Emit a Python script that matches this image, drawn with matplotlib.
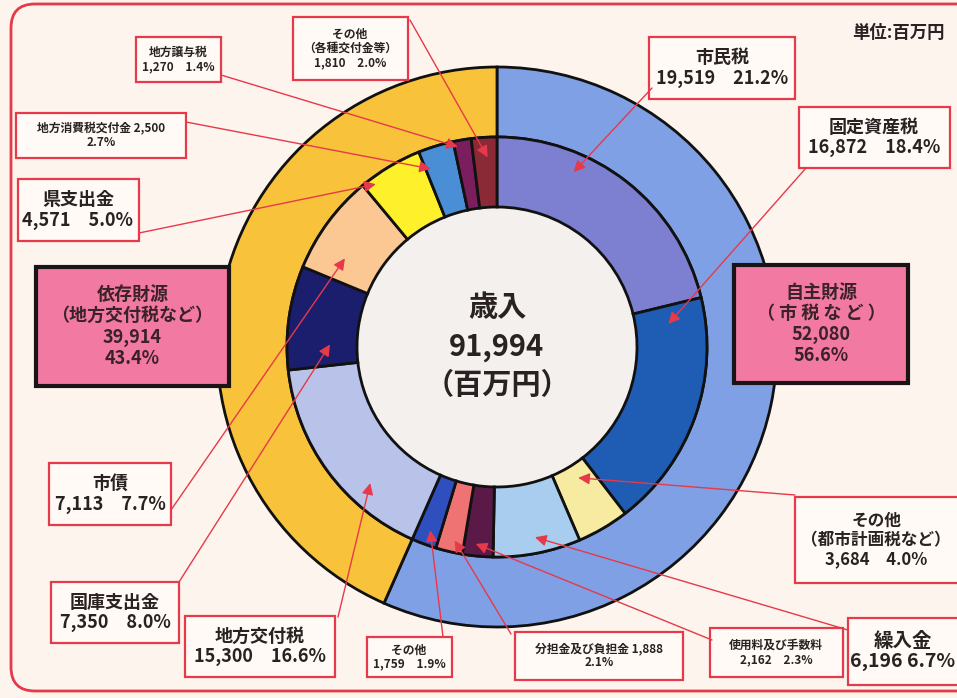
import numpy as np
import matplotlib
matplotlib.use("Agg")
import matplotlib.pyplot as plt
from matplotlib.patches import Rectangle, Circle, FancyBboxPatch

plt.rcParams['font.family'] = ['Noto Sans CJK JP', 'DejaVu Sans']

# ---- data (百万円) ----
outer_labels = ['自主財源\n（ 市 税 な ど ）', '依存財源\n（地方交付税など）']
outer_values = [52080, 39914]
outer_pcts = [56.6, 43.4]

inner_labels = ['市民税', '固定資産税', 'その他\n（都市計画税など）', '繰入金',
                '使用料及び手数料', '分担金及び負担金', 'その他',
                '地方交付税', '国庫支出金', '市債', '県支出金',
                '地方消費税交付金', '地方譲与税', 'その他\n（各種交付金等）']
inner_values = [19519, 16872, 3684, 6196, 2162, 1888, 1759,
                15300, 7350, 7113, 4571, 2500, 1270, 1810]
inner_pcts = [21.2, 18.4, 4.0, 6.7, 2.3, 2.1, 1.9,
              16.6, 8.0, 7.7, 5.0, 2.7, 1.4, 2.0]
total = 91994

outer_colors = ['#7fa0e4', '#f8c23a']
inner_colors = ['#7d7fd0', '#1f5cb4', '#f7eba2', '#a9cdee', '#5a1947', '#ef7373', '#2f4fbe',
                '#b9c2e8', '#1b1e6c', '#fbc894', '#fff02c', '#4a8ed6', '#7a1e5e', '#8a2a36']

# ---- layout (pixels) ----
W, H = 957, 698
cx, cy = 497, 347
R_OUT, R_MID, R_IN = 280, 210, 140
RED = '#e6394a'
TXT = '#2a2222'

fig = plt.figure(figsize=(W / 100, H / 100), dpi=100)
fig.patch.set_facecolor('#fdf4ee')
ax = fig.add_axes([0, 0, 1, 1])

ax.pie(outer_values, radius=R_OUT, center=(cx, cy), colors=outer_colors,
       startangle=-90, counterclock=True,
       wedgeprops=dict(width=R_OUT - R_MID, edgecolor='#111111', linewidth=2))
inner_wedges, _ = ax.pie(inner_values, radius=R_MID, center=(cx, cy), colors=inner_colors,
                         startangle=-90, counterclock=True,
                         wedgeprops=dict(width=R_MID - R_IN, edgecolor='#111111', linewidth=2))
ax.add_patch(Circle((cx, cy), R_IN - 1, facecolor='#f4f0ee', edgecolor='none', zorder=0.5))

ax.set_xlim(0, W)
ax.set_ylim(H, 0)
ax.set_aspect('auto')
ax.axis('off')

# outer rounded frame
ax.add_patch(FancyBboxPatch((11, 4), 1000, 687, boxstyle='round,pad=0,rounding_size=24',
                            facecolor='none', edgecolor=RED, linewidth=2, zorder=0.2))

# center text
for dy, s in [(-40, '歳入'), (0, f'{total:,}'), (38, '（百万円）')]:
    ax.text(cx, cy + dy, s, ha='center', va='center', fontsize=21, fontweight='bold', color=TXT)

ax.text(945, 33, '単位:百万円', ha='right', va='center', fontsize=12.5, fontweight='bold', color=TXT)

# label boxes: box (x0, y0, x1, y1), style, fontsize, text x, line start, arrow frac, arrow radius
# style 'a': name / value pct ; 'b': name value / pct
boxes = [
    ((649, 37, 795, 99), 'a', 13, 722, (652, 88), 0.31, 191),
    ((799, 107, 950, 168), 'a', 13, 874, (806, 168), 0.09, 173),
    ((795, 497, 981, 583), 'a', 12, 876, (795, 495), 0.40, 154),
    ((848, 618, 1010, 685), 'a', 14, 903, (848, 630), 0.49, 194),
    ((710, 628, 843, 677), 'a', 8.5, 776, (712, 640), 0.60, 198),
    ((515, 632, 683, 680), 'b', 8.5, 599, (511, 634), 0.38, 198),
    ((367, 637, 452, 677), 'a', 8.5, 409, (443, 637), 0.45, 195),
    ((185, 616, 335, 677), 'a', 13, 260, (338, 617), 0.32, 186),
    ((51, 582, 179, 643), 'a', 13, 115, (179, 582), 0.25, 167),
    ((49, 463, 171, 525), 'a', 13, 110, (171, 510), 0.28, 176),
    ((18, 179, 139, 241), 'a', 13, 78, (139, 233), 0.17, 203),
    ((16, 113, 186, 158), 'b', 8.5, 101, (186, 122), 0.15, 190),
    ((136, 37, 221, 82), 'a', 8.5, 178, (221, 75), 0.20, 204),
    ((293, 17, 408, 80), 'a', 8.5, 350, (410, 20), 0.60, 190),
]

for lab, val, pct, wedge, (bx, style, fs, tx, start, frac, rr) in zip(
        inner_labels, inner_values, inner_pcts, inner_wedges, boxes):
    x0, y0, x1, y1 = bx
    ax.add_patch(Rectangle((x0, y0), x1 - x0, y1 - y0, facecolor='#fffaf6',
                           edgecolor=RED, linewidth=1.6, zorder=3))
    gap = '\u3000' if fs < 14 else ' '
    if style == 'a':
        s = f'{lab}\n{val:,}{gap}{pct:.1f}%'
    else:
        s = f'{lab} {val:,}\n{pct:.1f}%'
    ax.text(tx, (y0 + y1) / 2, s, ha='center', va='center', fontsize=fs,
            fontweight='bold', color=TXT, linespacing=1.1, zorder=4)
    th = np.radians(wedge.theta1 + frac * (wedge.theta2 - wedge.theta1))
    tgt = (cx + rr * np.cos(th), cy + rr * np.sin(th))
    ax.annotate('', xy=tgt, xytext=start, zorder=5,
                arrowprops=dict(arrowstyle='-|>', color=RED, lw=1.0, mutation_scale=17,
                                shrinkA=0, shrinkB=0))

# big summary boxes
big = [(734, 265, 908, 383), (36, 267, 229, 386)]
for (x0, y0, x1, y1), name, val, pct in zip(big, outer_labels, outer_values, outer_pcts):
    ax.add_patch(Rectangle((x0, y0), x1 - x0, y1 - y0, facecolor='#f27aa2',
                           edgecolor='#1a1416', linewidth=3, zorder=3))
    ax.text((x0 + x1) / 2, (y0 + y1) / 2, f'{name}\n{val:,}\n{pct:.1f}%', ha='center',
            va='center', fontsize=13, fontweight='bold', color='#3a2228',
            linespacing=1.15, zorder=4)

fig.savefig('out.png', dpi=100, facecolor=fig.get_facecolor())
